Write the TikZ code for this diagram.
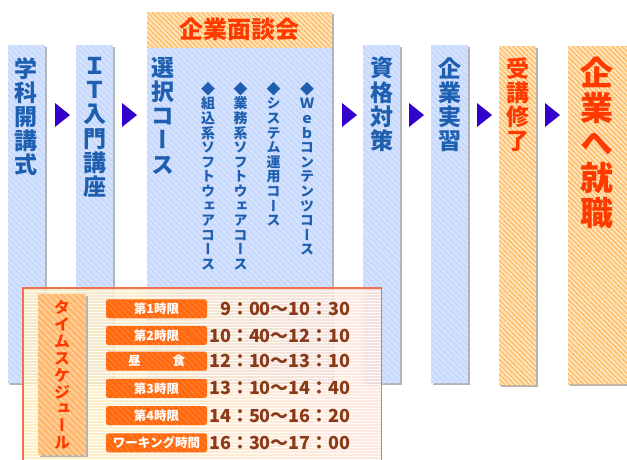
\documentclass[tikz,border=0pt]{standalone}
\usepackage{fontspec}
\newfontfamily\jp{Noto Sans CJK JP}
\newfontfamily\jpv{Noto Sans CJK JP}[RawFeature=+vert]
\usetikzlibrary{patterns.meta,shadows}
\definecolor{cblue}{HTML}{D2E1FF}
\definecolor{cbluel}{HTML}{BDD0F4}
\definecolor{corange}{HTML}{FFE3B8}
\definecolor{corangel}{HTML}{FFB458}
\definecolor{ctxtblue}{HTML}{1F5FB0}
\definecolor{cred}{HTML}{FF3A00}
\definecolor{carrow}{HTML}{3300CC}
\definecolor{cshadow}{HTML}{B4B4B4}
\definecolor{cborder}{HTML}{F07050}
\definecolor{clabel}{HTML}{FF6A10}
\definecolor{clabell}{HTML}{FF8A40}
\definecolor{cbrown}{HTML}{8A3A18}
\definecolor{ttyel}{HTML}{FFEDB4}
\definecolor{ttpink}{HTML}{FFE2DA}
\definecolor{ttlab}{HTML}{FFB870}
\definecolor{ttlabl}{HTML}{FFD8A6}
\tikzset{
  col/.style={minimum width=37pt, inner sep=0pt, anchor=north west,
    drop shadow={shadow xshift=1.5pt, shadow yshift=-1.5pt, fill=cshadow, opacity=1}},
  bluecol/.style={col, fill=cblue,
    postaction={pattern={Lines[angle=-45,distance=4pt,line width=0.9pt]}, pattern color=cbluel}},
  orcol/.style={col, fill=corange,
    postaction={pattern={Lines[angle=-45,distance=3.5pt,line width=1pt]}, pattern color=corangel}},
  vt/.style={inner sep=0pt, anchor=north, align=center},
  bluetxt/.style={vt, text=ctxtblue, font={\jpv\bfseries\fontsize{23}{24.2}\selectfont}},
  redtxt/.style={vt, text=cred, font={\jpv\bfseries\fontsize{23}{24.2}\selectfont}},
  subtxt/.style={vt, text=ctxtblue, font={\jpv\bfseries\fontsize{14}{14.6}\selectfont}},
  arr/.style={fill=carrow},
  lab/.style={fill=clabel, rounded corners=2.5pt, minimum width=101pt, minimum height=19pt,
    inner sep=0pt, text=white, font={\jp\bfseries\fontsize{12.5}{13}\selectfont},
    postaction={pattern={Lines[angle=-45,distance=4pt,line width=0.8pt]}, pattern color=clabell}},
  tim/.style={anchor=east, inner sep=0pt, text=cbrown, font={\jp\bfseries\fontsize{18}{18}\selectfont}},
}
\begin{document}
\begin{tikzpicture}[x=1pt,y=-1pt]
\useasboundingbox[fill=white] (0,0) rectangle (627,459);

% columns
\node[bluecol, minimum height=338pt] (c1) at (8,45) {};
\node[bluecol, minimum height=338pt] (c2) at (76,45) {};
\node[orcol, minimum width=185pt, minimum height=36pt] (hd) at (147,12) {};
\node[bluecol, minimum width=185pt, minimum height=335pt] (c3) at (147,48) {};
\node[bluecol, minimum height=338pt] (c4) at (363,45) {};
\node[bluecol, minimum height=338pt] (c5) at (431,45) {};
\node[orcol, minimum height=339pt] (c6) at (499,46) {};
\node[orcol, minimum width=62pt, minimum height=338pt] (c7) at (568,46) {};

% arrows
\foreach \ax in {55,122,342,409,477,545}
  \fill[arr] (\ax,103) -- (\ax+15,115) -- (\ax,127) -- cycle;

% column texts
\node[bluetxt] (t1) at (26.5,57) {学\\科\\開\\講\\式};
\node[bluetxt] (t2) at (94.5,57) {Ｉ\\Ｔ\\入\\門\\講\\座};
\node[vt, text=cred, font={\jp\bfseries\fontsize{24}{24}\selectfont}, anchor=center] (th) at (239.5,29) {企業面談会};
\node[bluetxt] (t3) at (163,57) {選\\択\\コ\\ー\\ス};
\node[subtxt] (s1) at (208,82) {◆\\組\\込\\系\\ソ\\フ\\ト\\ウ\\ェ\\ア\\コ\\ー\\ス};
\node[subtxt] (s2) at (240.5,82) {◆\\業\\務\\系\\ソ\\フ\\ト\\ウ\\ェ\\ア\\コ\\ー\\ス};
\node[subtxt] (s3) at (273.5,82) {◆\\シ\\ス\\テ\\ム\\運\\用\\コ\\ー\\ス};
\node[subtxt] (s4) at (307,82) {◆\\Ｗ\\ｅ\\ｂ\\コ\\ン\\テ\\ン\\ツ\\コ\\ー\\ス};
\node[bluetxt] (t4) at (381.5,57) {資\\格\\対\\策};
\node[bluetxt] (t5) at (449.5,57) {企\\業\\実\\習};
\node[redtxt] (t6) at (517.5,57) {受\\講\\修\\了};
\node[vt, text=cred, font={\jpv\bfseries\fontsize{33}{35}\selectfont}] (t7) at (597,57) {企\\業\\へ\\就\\職};

% timetable
\node[anchor=north west, inner sep=0pt, minimum width=358pt, minimum height=185pt,
  left color=ttyel, right color=ttpink, fill opacity=0.8,
  postaction={pattern={Lines[angle=0,distance=3pt,line width=0.9pt]}, pattern color=white, fill opacity=0.45}]
  (tt) at (23,288) {};
\draw[cborder, line width=1.3pt] (tt.north west) rectangle (tt.south east);
\node[col, minimum width=48pt, minimum height=161pt, fill=ttlab,
  postaction={pattern={Lines[angle=-45,distance=4.5pt,line width=1.2pt]}, pattern color=ttlabl}]
  (ttl) at (38,294) {};
\node[vt, text=cred, font={\jpv\bfseries\fontsize{16}{16.9}\selectfont}] (ttt) at (62,300)
  {タ\\イ\\ム\\ス\\ケ\\ジ\\ュ\\ー\\ル};

\node[lab] (l1) at (156.5,308.8) {第1時限};
\node[lab] (l2) at (156.5,335.5) {第2時限};
\node[lab] (l3) at (156.5,361.2) {昼\hspace{32pt}食};
\node[lab] (l4) at (156.5,388.3) {第3時限};
\node[lab] (l5) at (156.5,415.5) {第4時限};
\node[lab] (l6) at (156.5,442.8) {ワーキング時間};

\node[tim] (m1) at (351,308.8) {9：00～10：30};
\node[tim] (m2) at (351,335.5) {10：40～12：10};
\node[tim] (m3) at (351,361.2) {12：10～13：10};
\node[tim] (m4) at (351,388.3) {13：10～14：40};
\node[tim] (m5) at (351,415.5) {14：50～16：20};
\node[tim] (m6) at (351,442.8) {16：30～17：00};
\end{tikzpicture}
\end{document}
